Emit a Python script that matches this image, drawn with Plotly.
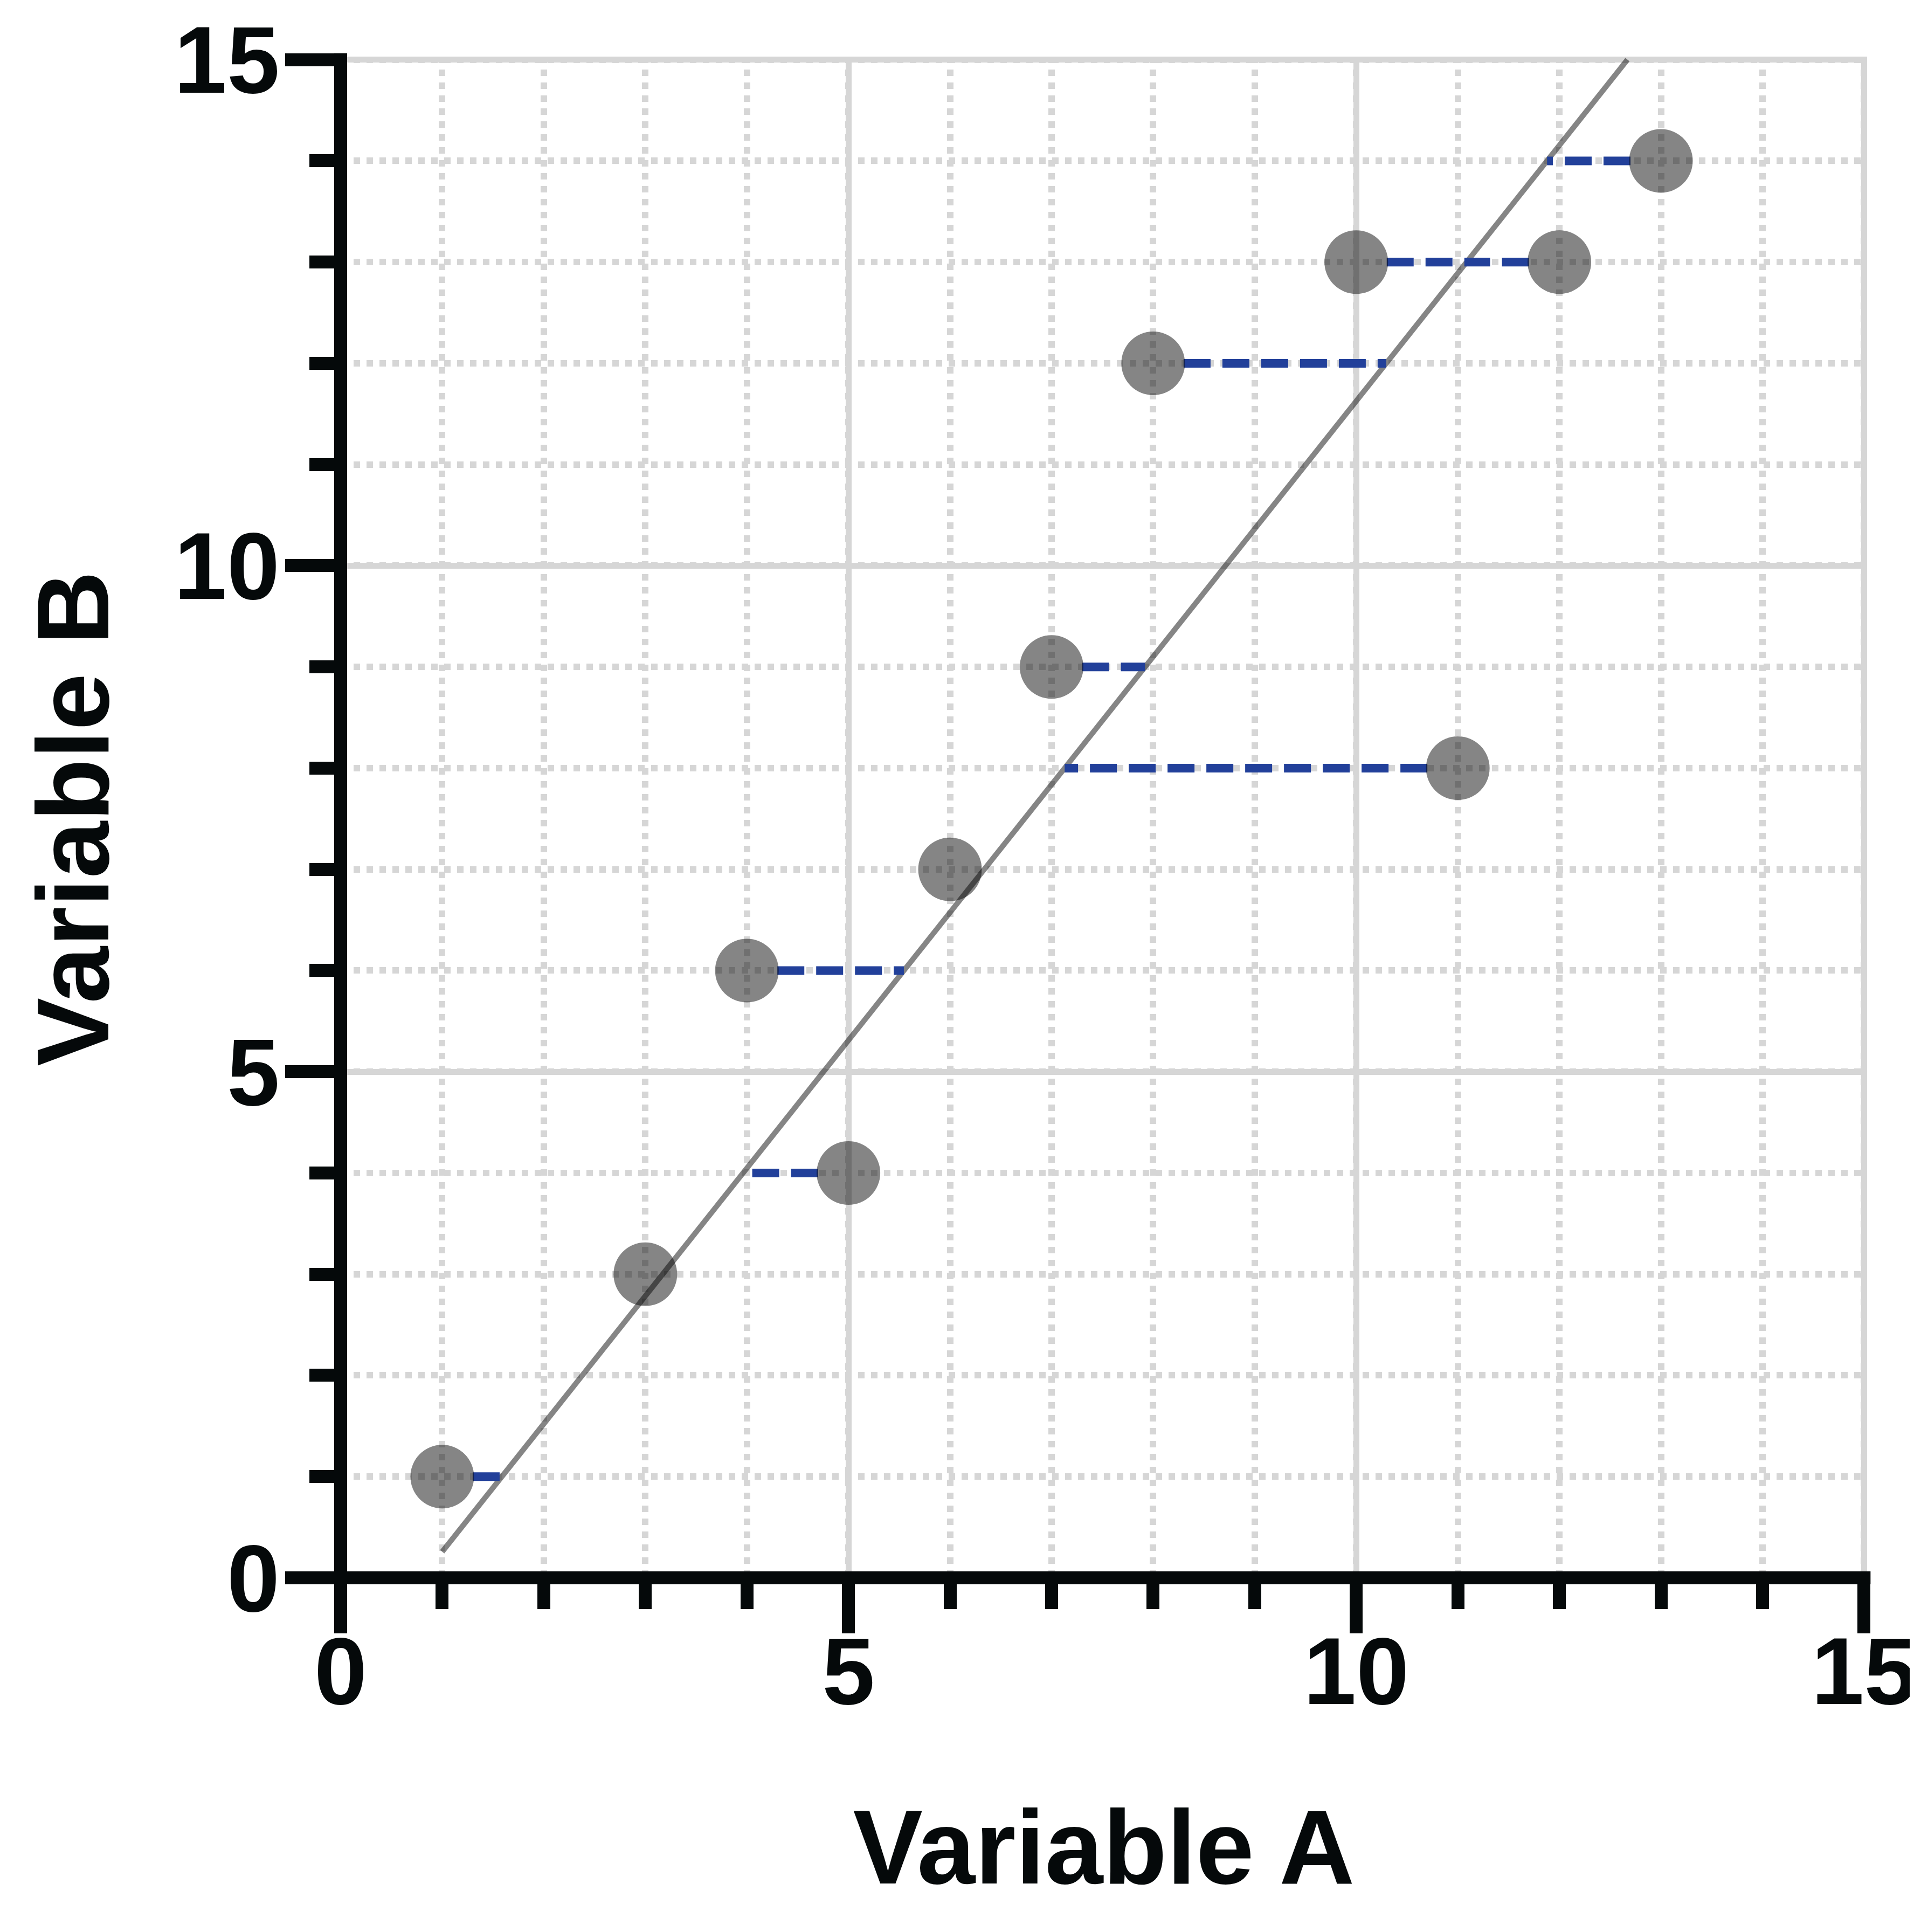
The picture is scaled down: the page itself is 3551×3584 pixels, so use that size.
import plotly.graph_objects as go

# ---- data ----
var_a = [1, 3, 5, 4, 6, 7, 11, 8, 10, 12, 13]
var_b = [1, 3, 4, 6, 7, 9, 8, 12, 13, 13, 14]
x_title = "Variable A"
y_title = "Variable B"
major_ticks = [0, 5, 10, 15]

# ---- regression of A on B (horizontal residuals) ----
n = len(var_a)
ma = sum(var_a) / n
mb = sum(var_b) / n
sab = sum((a - ma) * (b - mb) for a, b in zip(var_a, var_b))
sbb = sum((b - mb) ** 2 for b in var_b)
slope_ab = sab / sbb  # A = ma + slope_ab*(B - mb)


def a_on_line(b):
    return ma + slope_ab * (b - mb)


def b_on_line(a):
    return mb + (a - ma) / slope_ab


AX_MAX = 15
RANGE_MAX = 15.03
line_b = [b_on_line(min(var_a)), AX_MAX]
line_a = [a_on_line(v) for v in line_b]

r_data = 0.3  # marker radius in data units
res_x, res_y = [], []
for a, b in zip(var_a, var_b):
    xl = a_on_line(b)
    if abs(xl - a) > r_data + 0.06:
        s = 1 if xl > a else -1
        res_x += [a + s * r_data, xl, None]
        res_y += [b, b, None]

BLACK = "#05090a"
GRID = "#d6d6d6"
FONT = "Liberation Sans"

fig = go.Figure()
fig.add_trace(go.Scatter(x=line_a, y=line_b, mode="lines",
                         line=dict(color="rgba(0,0,0,0.48)", width=10),
                         hoverinfo="skip", showlegend=False))
fig.add_trace(go.Scatter(x=res_x, y=res_y, mode="lines",
                         line=dict(color="#22409a", width=16, dash="50px,22px"),
                         connectgaps=False, hoverinfo="skip", showlegend=False))
fig.add_trace(go.Scatter(x=var_a, y=var_b, mode="markers",
                         marker=dict(size=118, color="rgba(0,0,0,0.48)", line=dict(width=0)),
                         showlegend=False))

M_L, M_R, M_T, M_B = 624, 95, 97, 665
W_PLOT = 3551 - M_L - M_R
H_PLOT = 3584 - M_T - M_B

axis_common = dict(
    range=[0, RANGE_MAX], automargin=False,
    tickmode="array", tickvals=major_ticks, ticktext=[str(t) for t in major_ticks],
    ticks="outside", ticklen=102, tickwidth=24, tickcolor=BLACK,
    showline=False, zeroline=False,
    showgrid=True, gridcolor=GRID, gridwidth=11,
    ticklabeloverflow="allow",
    tickfont=dict(family=FONT, size=176, color=BLACK, weight="bold"),
    minor=dict(dtick=1, tick0=0, ticks="outside", ticklen=57, tickwidth=24,
               tickcolor=BLACK, showgrid=True, gridcolor=GRID, gridwidth=12,
               griddash="12px,12px"),
)

fig.update_layout(
    width=3551, height=3584,
    margin=dict(l=M_L, r=M_R, t=M_T, b=M_B, autoexpand=False),
    paper_bgcolor="white", plot_bgcolor="white",
    xaxis=dict(axis_common, ticklabelstandoff=-80,
               title=dict(text=x_title, standoff=160,
                          font=dict(family=FONT, size=194, color=BLACK, weight="bold"))),
    yaxis=dict(axis_common, ticklabelstandoff=-25),
    annotations=[
        dict(text=y_title, textangle=-90, showarrow=False,
             xref="paper", x=0, xanchor="center", xshift=-497,
             yref="paper", y=0.5 * AX_MAX / RANGE_MAX, yanchor="middle",
             font=dict(family=FONT, size=190, color=BLACK, weight="bold")),
    ],
    shapes=[
        dict(type="rect", xref="paper", yref="paper", layer="above",
             xsizemode="pixel", xanchor=0, x0=-12, x1=12,
             y0=0, y1=AX_MAX / RANGE_MAX + 12 / H_PLOT,
             fillcolor=BLACK, line=dict(width=0)),
        dict(type="rect", xref="paper", yref="paper", layer="above",
             ysizemode="pixel", yanchor=0, y0=-12, y1=12,
             x0=-12 / W_PLOT, x1=AX_MAX / RANGE_MAX + 12 / W_PLOT,
             fillcolor=BLACK, line=dict(width=0)),
    ],
)

fig.write_html("out.html")
